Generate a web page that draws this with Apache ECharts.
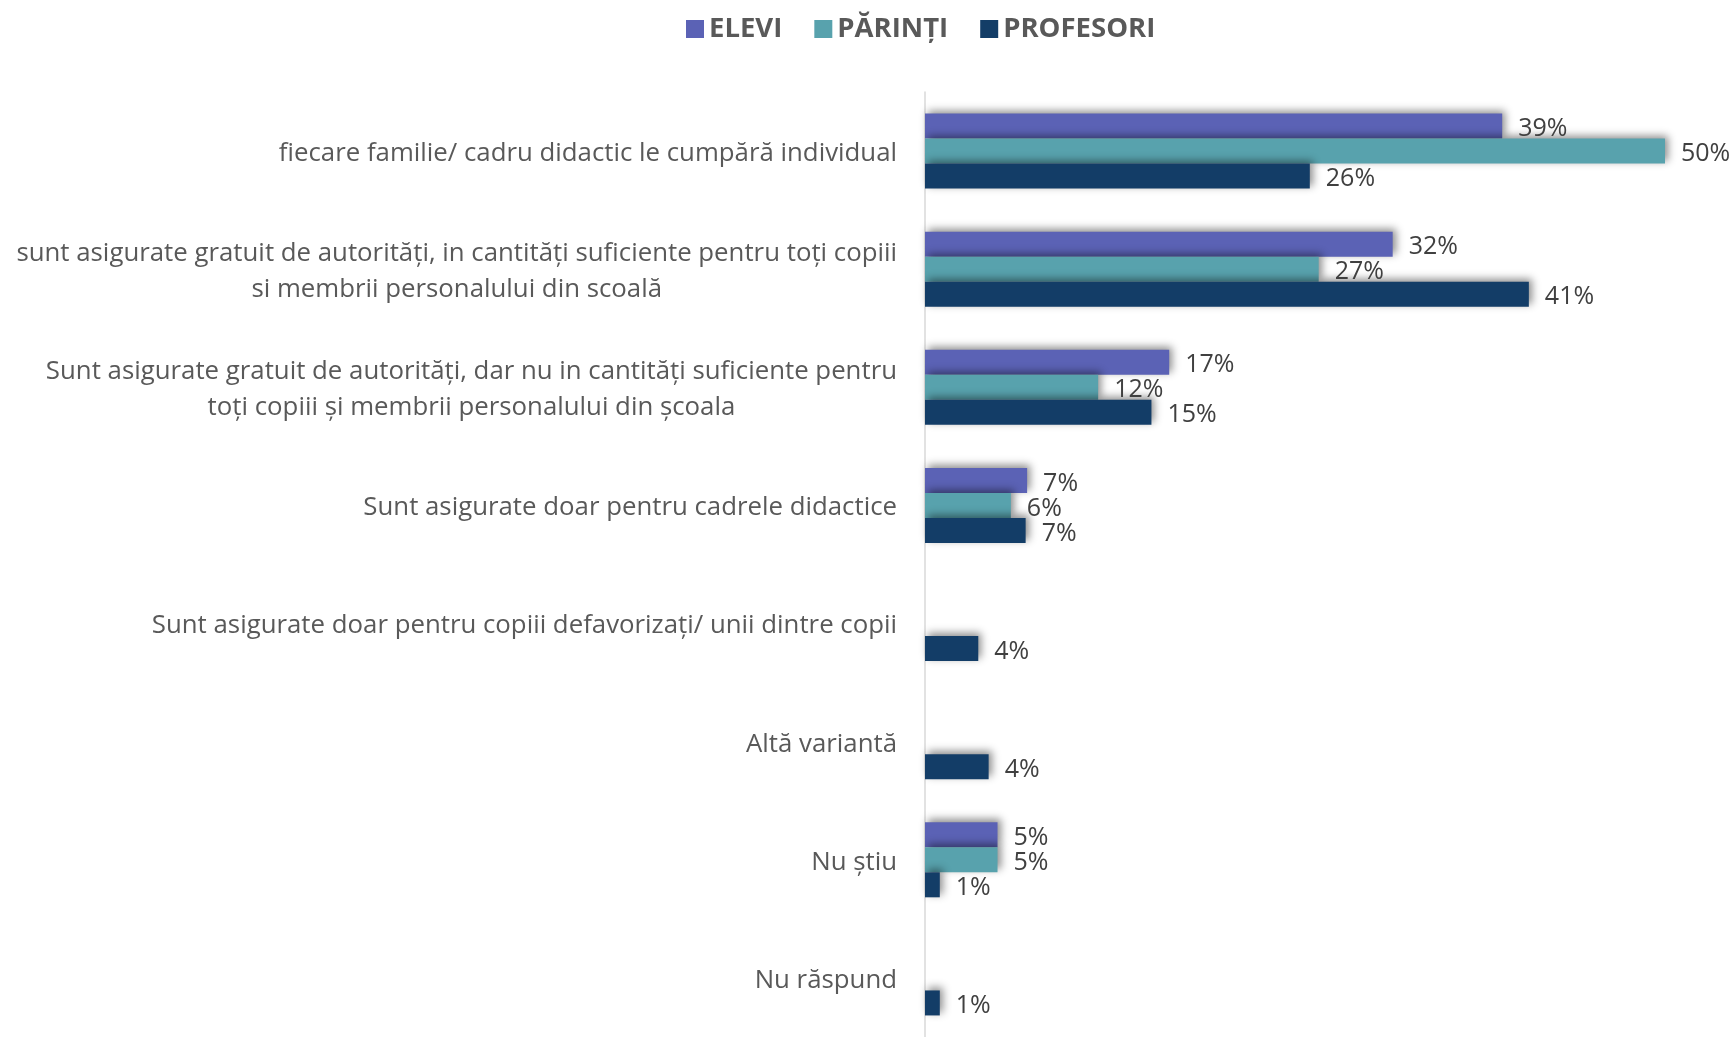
<!DOCTYPE html>
<html>
<head>
<meta charset="utf-8">
<script src="https://cdn.jsdelivr.net/npm/echarts@6/dist/echarts.min.js"></script>
<style>
html,body{margin:0;padding:0;background:#fff;}
#chart{width:1736px;height:1037px;}
</style>
</head>
<body>
<div id="chart"></div>
<script>
const categories = [
  "fiecare familie/ cadru didactic le cumpără individual",
  "sunt asigurate gratuit de autorități, in cantități suficiente pentru toți copiii\nsi membrii personalului din scoală",
  "Sunt asigurate gratuit de autorități, dar nu in cantități suficiente pentru\ntoți copiii și membrii personalului din școala",
  "Sunt asigurate doar pentru cadrele didactice",
  "Sunt asigurate doar pentru copiii defavorizați/ unii dintre copii",
  "Altă variantă",
  "Nu știu",
  "Nu răspund"
];
const seriesNames = ["ELEVI", "PĂRINȚI", "PROFESORI"];
const elevi     = [39, 31.6, 16.5, 6.9, null, null, 4.9, null];
const parinti   = [50, 26.6, 11.7, 5.8, null, null, 4.9, null];
const profesori = [26, 40.8, 15.3, 6.8, 3.6, 4.3, 1, 1];
const colors = ["#5B62B5", "#58A2AD", "#133D67"];

const chart = echarts.init(document.getElementById('chart'));
const FONT = "'Open Sans', sans-serif";

function mkSeries(name, data, color) {
  return {
    name: name,
    type: 'bar',
    data: data,
    barWidth: 25,
    barGap: '0%',
    itemStyle: {
      color: color,
      shadowBlur: 8,
      shadowOffsetX: 3,
      shadowOffsetY: -3,
      shadowColor: 'rgba(0,0,0,0.45)'
    },
    label: {
      show: true,
      position: 'right',
      distance: 16,
      offset: [0, 3],
      color: '#404040',
      fontFamily: FONT,
      fontSize: 25,
      formatter: p => (p.value == null ? '' : Math.round(p.value) + '%')
    }
  };
}

chart.setOption({
  animation: false,
  textStyle: { fontFamily: FONT },
  legend: {
    data: seriesNames,
    top: 10,
    left: 681,
    itemWidth: 18,
    itemHeight: 18,
    itemGap: 32,
    icon: 'rect',
    textStyle: {
      fontFamily: FONT,
      fontWeight: 'bold',
      fontSize: 27.5,
      color: '#595959'
    }
  },
  grid: {
    left: 925,
    right: 71,
    top: 92,
    bottom: -8,
    containLabel: false
  },
  xAxis: {
    type: 'value',
    min: 0,
    max: 50,
    show: false
  },
  yAxis: {
    type: 'category',
    data: categories,
    inverse: true,
    axisLine: { show: true, lineStyle: { color: '#d9d9d9', width: 1.5 } },
    axisTick: { show: false },
    axisLabel: {
      margin: 28,
      color: '#595959',
      fontFamily: FONT,
      fontSize: 25.8,
      lineHeight: 36,
      formatter: v => v.split('\n').map(l => '{a|' + l + '}').join('\n'),
      rich: {
        a: {
          align: 'center',
          color: '#595959',
          fontFamily: FONT,
          fontSize: 25.8,
          lineHeight: 36,
          padding: [5, 0, 0, 0]
        }
      }
    },
    splitLine: { show: false }
  },
  series: [
    mkSeries(seriesNames[0], elevi, colors[0]),
    mkSeries(seriesNames[1], parinti, colors[1]),
    mkSeries(seriesNames[2], profesori, colors[2])
  ]
});
</script>
</body>
</html>
